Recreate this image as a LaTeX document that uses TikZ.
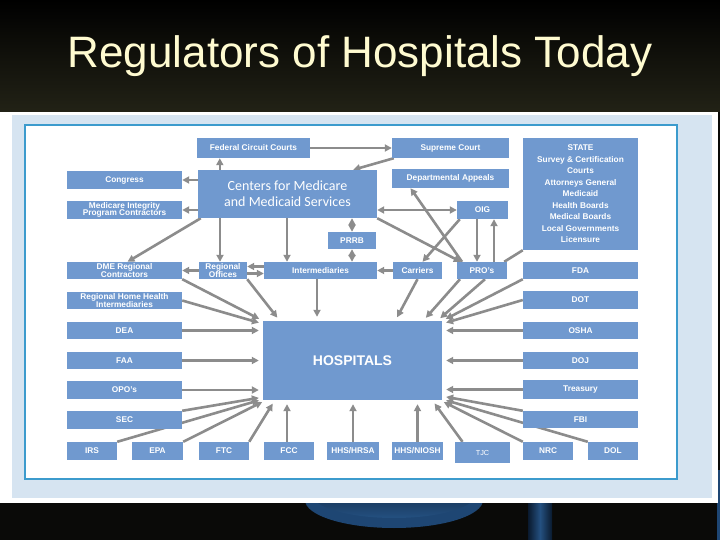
\documentclass[tikz,border=0pt]{standalone}
\usepackage{fontspec}
\setmainfont{Liberation Sans}
\newfontfamily\cmsfont{Carlito}
\usetikzlibrary{arrows.meta,calc}
\definecolor{boxblue}{RGB}{112,153,207}
\definecolor{linegray}{RGB}{140,140,140}
\definecolor{panelblue}{RGB}{214,228,241}
\definecolor{framecyan}{RGB}{60,155,205}
\definecolor{titlecream}{RGB}{255,251,208}
\definecolor{topolive}{RGB}{34,34,22}
\definecolor{bottomblack}{RGB}{10,10,8}
\definecolor{standrim}{RGB}{30,70,115}
\definecolor{standdark}{RGB}{10,26,46}
\definecolor{standmid}{RGB}{36,80,128}
\pgfdeclarelayer{bg}
\pgfdeclarelayer{edges}
\pgfsetlayers{bg,edges,main}
\begin{document}
\begin{tikzpicture}[x=1pt,y=-1pt,
  box/.style={fill=boxblue,text=white,inner sep=0pt,align=center,
    font=\bfseries\fontsize{8.3}{7.6}\selectfont},
  bx/.style 2 args={box,minimum width=#1pt,minimum height=#2pt},
  arr/.style={draw=linegray,line width=2.6pt,-{Triangle[length=7pt,width=7pt]}},
  darr/.style={draw=linegray,line width=2.6pt,{Triangle[length=7pt,width=7pt]}-{Triangle[length=7pt,width=7pt]}},
  plain/.style={draw=linegray,line width=2.6pt},
  harr/.style={arr,shorten >=4pt}]
\useasboundingbox (0,0) rectangle (720,540);

% ---------- nodes ----------
\node[text=titlecream,font=\fontsize{44}{44}\selectfont,anchor=base] (title) at (360,68) {Regulators of Hospitals Today};

\node[bx={113}{20}] (fedcourt) at (253.5,148) {Federal Circuit Courts};
\node[bx={117}{20}] (supreme) at (450.5,148) {Supreme Court};
\node[bx={117}{19}] (deptapp) at (450.5,178.5) {Departmental Appeals};
\node[bx={115}{112},font=\bfseries\fontsize{8.3}{11.5}\selectfont] (state) at (580.5,194)
  {STATE\\Survey \& Certification\\Courts\\Attorneys General\\Medicaid\\Health Boards\\Medical Boards\\Local Governments\\Licensure};
\node[bx={115}{18}] (congress) at (124.5,180) {Congress};
\node[bx={115}{18}] (mipc) at (124.5,210) {Medicare Integrity\\Program Contractors};
\node[bx={179}{48},font=\cmsfont\fontsize{14}{16}\selectfont] (cms) at (287.5,194) {Centers for Medicare\\and Medicaid Services};
\node[bx={51}{18}] (oig) at (482.5,210) {OIG};
\node[bx={48}{17}] (prrb) at (352,240.5) {PRRB};
\node[bx={115}{17}] (dme) at (124.5,270.5) {DME Regional\\Contractors};
\node[bx={48}{17}] (ro) at (223,270.5) {Regional\\Offices};
\node[bx={113}{17}] (interm) at (320.5,270.5) {Intermediaries};
\node[bx={49}{17}] (carriers) at (417.5,270.5) {Carriers};
\node[bx={50}{17}] (pros) at (482,270.5) {PRO's};
\node[bx={115}{17}] (fda) at (580.5,270.5) {FDA};
\node[bx={115}{17}] (rhhi) at (124.5,300.5) {Regional Home Health\\Intermediaries};
\node[bx={115}{18}] (dot) at (580.5,300) {DOT};
\node[bx={115}{17}] (dea) at (124.5,330.5) {DEA};
\node[bx={115}{17}] (osha) at (580.5,330.5) {OSHA};
\node[bx={179}{79},font=\bfseries\fontsize{14}{16}\selectfont] (hosp) at (352.5,360.5) {HOSPITALS};
\node[bx={115}{17}] (faa) at (124.5,360.5) {FAA};
\node[bx={115}{17}] (doj) at (580.5,360.5) {DOJ};
\node[bx={115}{18}] (opo) at (124.5,390) {OPO's};
\node[bx={115}{19}] (treasury) at (580.5,389.5) {Treasury};
\node[bx={115}{18}] (sec) at (124.5,420) {SEC};
\node[bx={115}{17}] (fbi) at (580.5,419.5) {FBI};
\node[bx={50}{18}] (irs) at (92,451) {IRS};
\node[bx={51}{18}] (epa) at (157.5,451) {EPA};
\node[bx={50}{18}] (ftc) at (224,451) {FTC};
\node[bx={50}{18}] (fcc) at (289,451) {FCC};
\node[bx={52}{18}] (hrsa) at (353,451) {HHS/HRSA};
\node[bx={51}{18}] (niosh) at (417.5,451) {HHS/NIOSH};
\node[bx={55}{21},font=\fontsize{7.3}{8}\selectfont] (tjc) at (482.5,452.5) {TJC};
\node[bx={50}{18}] (nrc) at (548,451) {NRC};
\node[bx={50}{18}] (dol) at (613,451) {DOL};

% ---------- background ----------
\begin{pgfonlayer}{bg}
\fill[bottomblack] (0,0) rectangle (720,540);
\shade[top color=black,bottom color=topolive] (0,0) rectangle (720,112);
\fill[standrim] (394,500) ellipse [x radius=89pt,y radius=28pt];
\shade[top color=standdark,bottom color=standmid] (394,494) ellipse [x radius=82pt,y radius=24pt];
\shade[left color=standdark,right color=standdark,middle color=standmid] (528,500) rectangle (552,540);
\fill[standrim] (717,470) rectangle (720,540);
\fill[white] (0,112) rectangle (718,503);
\fill[panelblue] (12,115) rectangle (712,498);
\draw[framecyan,line width=1.5pt,fill=white] (25,125) rectangle (677,479);
\end{pgfonlayer}

% ---------- connectors ----------
\begin{pgfonlayer}{edges}
% upper network
\draw[arr] ([xshift=22pt]cms.north west) -- ([xshift=22pt]cms.north west |- fedcourt.south);
\draw[arr] (fedcourt.east) -- (supreme.west);
\draw[arr] ([xshift=2pt]supreme.south west) -- ([xshift=-24pt]cms.north east);
\draw[arr] (cms.west |- congress.east) -- (congress.east);
\draw[arr] (cms.west |- mipc.east) -- (mipc.east);
\draw[arr] ([xshift=3pt]cms.south west) -- ([xshift=3pt]dme.north);
\draw[arr] ([xshift=-3pt]ro.north |- cms.south) -- ([xshift=-3pt]ro.north);
\draw[arr] ([xshift=-33.5pt]interm.north |- cms.south) -- ([xshift=-33.5pt]interm.north);
\draw[darr] (prrb.north) -- (prrb.north |- cms.south);
\draw[darr] (prrb.south) -- (prrb.south |- interm.north);
\draw[darr] (cms.east |- oig.west) -- (oig.west);
\draw[arr] (cms.south east) -- ([xshift=4pt]pros.north west);
\draw[arr] ([xshift=-20pt]pros.north) -- ([xshift=-40pt]deptapp.south);
\draw[arr] ([xshift=3pt]oig.south west) -- ([xshift=5pt]carriers.north);
\draw[arr] ([xshift=-5.5pt]oig.south) -- ([xshift=-5.5pt]oig.south |- pros.north);
\draw[arr] ([xshift=11.5pt]oig.south |- pros.north) -- ([xshift=11.5pt]oig.south);
\draw[plain] (state.south west) -- ([xshift=-3pt]pros.north east);
\draw[arr] (carriers.west) -- (interm.east);
\draw[arr] ([yshift=4pt]interm.west) -- ([yshift=4pt]ro.east);
\draw[arr] ([yshift=-3pt]ro.east) -- ([yshift=-3pt]interm.west);
\draw[arr] (ro.west) -- (dme.east);
% into hospitals: left
\draw[harr] (dme.south east) -- (hosp.north west);
\draw[harr] (rhhi.east) -- ([yshift=-3pt]hosp.north west);
\draw[harr] (dea.east) -- (hosp.west |- dea.east);
\draw[harr] (faa.east) -- (hosp.west |- faa.east);
\draw[harr] (opo.east) -- (hosp.west |- opo.east);
\draw[harr] (sec.north east) -- ([yshift=3pt]hosp.south west);
% bottom
\draw[harr] (irs.north east) -- ([yshift=1pt]hosp.south west);
\draw[harr] (epa.north east) -- ([xshift=3pt]hosp.south west);
\draw[harr] (ftc.north east) -- ([xshift=12pt]hosp.south west);
\draw[harr] ([xshift=-2pt]fcc.north) -- ([xshift=-2pt]fcc.north |- hosp.south);
\draw[harr] (hrsa.north) -- (hrsa.north |- hosp.south);
\draw[harr] (niosh.north) -- (niosh.north |- hosp.south);
\draw[harr] ([xshift=-20pt]tjc.north) -- ([xshift=-10pt]hosp.south east);
\draw[harr] (nrc.north west) -- ([xshift=-2pt]hosp.south east);
\draw[harr] (dol.north west) -- ([yshift=1pt]hosp.south east);
% right
\draw[harr] (fbi.north west) -- ([yshift=4pt]hosp.south east);
\draw[harr] (treasury.west) -- (hosp.east |- treasury.west);
\draw[harr] (doj.west) -- (hosp.east |- doj.west);
\draw[harr] (osha.west) -- (hosp.east |- osha.west);
\draw[harr] (dot.west) -- ([yshift=-3pt]hosp.north east);
\draw[harr] (fda.south west) -- (hosp.north east);
% top
\draw[harr] ([xshift=-3.5pt]interm.south) -- ([xshift=-3.5pt]interm.south |- hosp.north);
\draw[harr] (ro.south east) -- ([xshift=17pt]hosp.north west);
\draw[harr] (carriers.south) -- ([xshift=-47pt]hosp.north east);
\draw[harr] ([xshift=-22pt]pros.south) -- ([xshift=-19pt]hosp.north east);
\draw[harr] ([xshift=3pt]pros.south) -- ([xshift=-5pt]hosp.north east);
\end{pgfonlayer}
\end{tikzpicture}
\end{document}
